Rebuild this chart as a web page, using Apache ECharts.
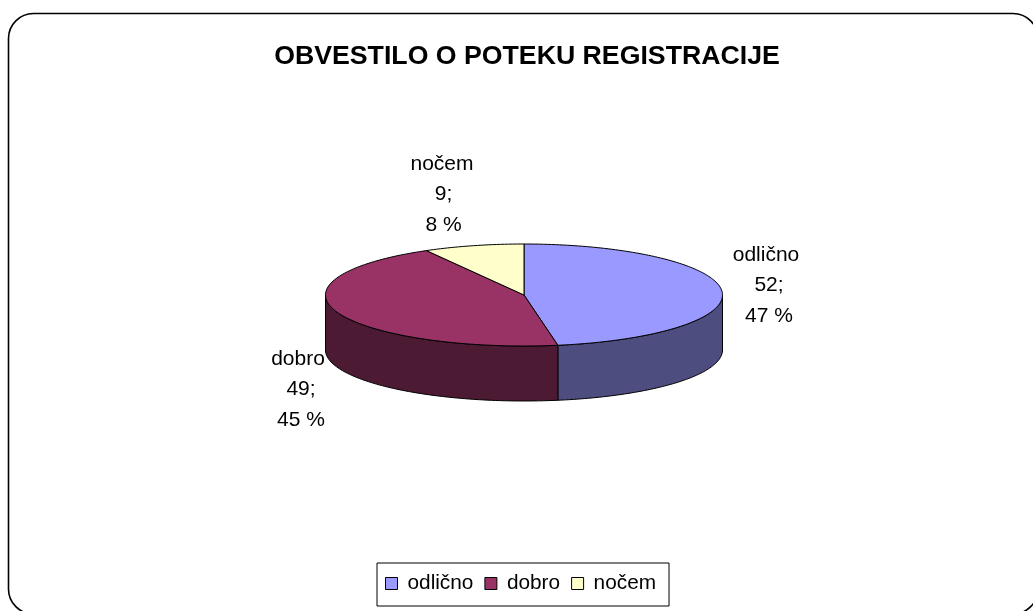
<!DOCTYPE html>
<html>
<head>
<meta charset="utf-8">
<title>Obvestilo o poteku registracije</title>
<script src="https://cdn.jsdelivr.net/npm/echarts@6/dist/echarts.min.js"></script>
<style>
  html, body { margin: 0; padding: 0; background: #fff; overflow: hidden; }
  #chart { width: 1033px; height: 611px; }
</style>
</head>
<body>
<div id="chart"></div>
<script>
const categories = ['odlično', 'dobro', 'nočem'];
const votes = [52, 49, 9];
const percents = [47, 45, 8];
const topColors = ['#9999FF', '#993366', '#FFFFCC'];
const sideColors = ['#4D4D80', '#4D1A33', '#808066'];

const FONT = 'Liberation Sans';
const PIE = { cx: 524, cy: 295, rx: 198.5, ry: 51, depth: 55 };

const total = votes.reduce((a, b) => a + b, 0);

// Angles go clockwise from 12 o'clock, like the Excel pie
const point = (angle, yOffset) => [
  PIE.cx + PIE.rx * Math.sin(angle),
  PIE.cy - PIE.ry * Math.cos(angle) + (yOffset || 0)
];

const arcPoints = (from, to, yOffset) => {
  const pts = [];
  const steps = Math.max(2, Math.ceil((to - from) / 0.02));
  for (let i = 0; i <= steps; i++) {
    pts.push(point(from + (to - from) * i / steps, yOffset));
  }
  return pts;
};

const outline = { stroke: '#000', lineWidth: 1, lineJoin: 'round' };

const renderSlice = (i, api) => {
  const before = votes.slice(0, i).reduce((a, b) => a + b, 0);
  const from = before / total * Math.PI * 2;
  const to = (before + api.value(1)) / total * Math.PI * 2;
  const children = [];

  // the rim is only visible on the front half of the ellipse
  const sideFrom = Math.max(from, Math.PI / 2);
  const sideTo = Math.min(to, Math.PI * 1.5);
  if (sideTo > sideFrom) {
    const rim = arcPoints(sideFrom, sideTo, 0)
      .concat(arcPoints(sideFrom, sideTo, PIE.depth).reverse());
    children.push({
      type: 'polygon',
      shape: { points: rim },
      style: Object.assign({ fill: sideColors[i] }, outline)
    });
  }

  children.push({
    type: 'polygon',
    shape: { points: [[PIE.cx, PIE.cy]].concat(arcPoints(from, to, 0)) },
    style: Object.assign({ fill: topColors[i] }, outline)
  });
  return { type: 'group', children: children };
};

const chart = echarts.init(document.getElementById('chart'), null, { renderer: 'canvas' });

const labelStyle = { fontFamily: FONT, fontSize: 21, fill: '#000', textAlign: 'center', textVerticalAlign: 'middle' };
const labelPos = [[769, 255], [301, 359], [443.5, 164]];
// the first line of each label sits a little left of the two below it
const firstLineShift = [-3, -3, -1.5];
const LINE = 30.7;

const labelGraphics = [];
categories.forEach((name, i) => {
  [name, votes[i] + ';', percents[i] + ' %'].forEach((line, j) => {
    labelGraphics.push({
      type: 'text',
      x: labelPos[i][0] + (j === 0 ? firstLineShift[i] : 0),
      y: labelPos[i][1] + LINE * j,
      z: 10,
      style: Object.assign({ text: line }, labelStyle)
    });
  });
});

const option = {
  animation: false,
  backgroundColor: '#fff',
  title: {
    text: 'OBVESTILO O POTEKU REGISTRACIJE',
    left: 522,
    top: 38,
    textAlign: 'center',
    textStyle: { fontFamily: FONT, fontSize: 26.7, fontWeight: 'bold', color: '#000' }
  },
  legend: {
    data: categories,
    left: 377,
    top: 563,
    padding: [10, 13, 12, 8],
    itemGap: 11,
    itemWidth: 12,
    itemHeight: 12,
    borderColor: '#000',
    borderWidth: 1,
    icon: 'rect',
    textStyle: { fontFamily: FONT, fontSize: 20.8, color: '#000', padding: [0, 0, 0, 5] },
    itemStyle: { borderColor: '#000', borderWidth: 1 }
  },
  xAxis: { show: false, type: 'category', data: categories },
  yAxis: { show: false, type: 'value' },
  grid: { left: 0, right: 0, top: 0, bottom: 0 },
  graphic: [
    {
      // the frame runs slightly off the page on the right and at the bottom
      type: 'rect',
      z: 0,
      shape: { x: 8.5, y: 13.5, width: 1029.5, height: 600.5, r: 25 },
      style: { fill: 'none', stroke: '#000', lineWidth: 1.6 }
    }
  ].concat(labelGraphics),
  series: categories.map((name, s) => ({
    name: name,
    type: 'custom',
    coordinateSystem: 'none',
    color: topColors[s],
    renderItem: (params, api) => renderSlice(s, api),
    data: [[s, votes[s]]],
    encode: { value: 1 }
  }))
};

chart.setOption(option);
</script>
</body>
</html>
